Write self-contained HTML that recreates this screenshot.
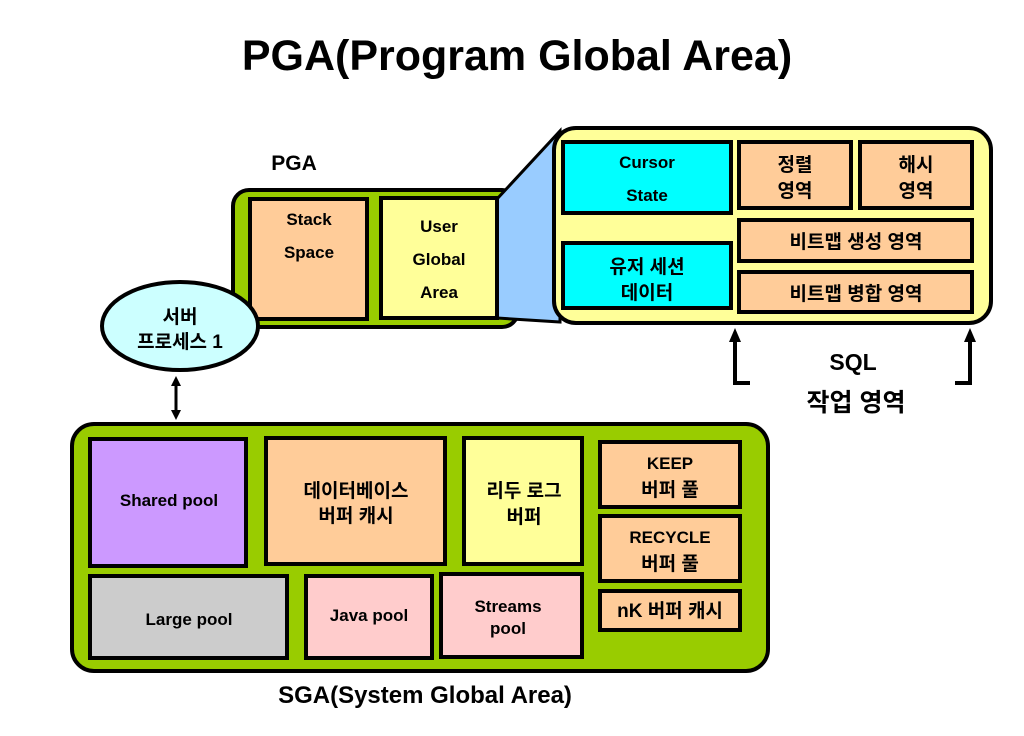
<!DOCTYPE html>
<html><head><meta charset="utf-8"><style>
html,body{margin:0;padding:0;background:#fff;}
svg{display:block;}
text{font-family:"Liberation Sans","Noto Sans CJK KR",sans-serif;font-weight:bold;fill:#000;text-anchor:middle;}
.b{stroke:#000;stroke-width:4;}
.s{font-size:17px;}
.k{font-size:19px;}
</style></head><body>
<svg width="1024" height="736" viewBox="0 0 1024 736" xmlns="http://www.w3.org/2000/svg">
<text x="517" y="70" style="font-size:43px">PGA(Program Global Area)</text>
<text x="294" y="170" style="font-size:21px">PGA</text>

<!-- PGA box -->
<rect x="233" y="190" width="285" height="137" rx="16" fill="#99cc00" class="b"/>
<polygon points="497,199 560,131 560,322 497,318" fill="#99ccff" stroke="#000" stroke-width="3"/>
<rect x="250" y="199" width="117" height="120" fill="#ffcc99" class="b"/>
<text x="309" y="225" class="s">Stack</text>
<text x="309" y="258" class="s">Space</text>
<rect x="381" y="198" width="116" height="120" fill="#ffff99" class="b"/>
<text x="439" y="232" class="s">User</text>
<text x="439" y="265" class="s">Global</text>
<text x="439" y="298" class="s">Area</text>

<!-- UGA detail -->
<rect x="554" y="128" width="437" height="195" rx="22" fill="#ffff99" class="b"/>
<rect x="563" y="142" width="168" height="71" fill="#00ffff" class="b"/>
<text x="647" y="168" class="s">Cursor</text>
<text x="647" y="201" class="s">State</text>
<rect x="563" y="243" width="168" height="65" fill="#00ffff" class="b"/>
<text x="647" y="273" class="k">유저 세션</text>
<text x="647" y="299" class="k">데이터</text>
<rect x="739" y="142" width="112" height="66" fill="#ffcc99" class="b"/>
<text x="795" y="171" class="k">정렬</text>
<text x="795" y="197" class="k">영역</text>
<rect x="860" y="142" width="112" height="66" fill="#ffcc99" class="b"/>
<text x="916" y="171" class="k">해시</text>
<text x="916" y="197" class="k">영역</text>
<rect x="739" y="220" width="233" height="41" fill="#ffcc99" class="b"/>
<text x="856" y="248" class="k">비트맵 생성 영역</text>
<rect x="739" y="272" width="233" height="40" fill="#ffcc99" class="b"/>
<text x="856" y="300" class="k">비트맵 병합 영역</text>

<!-- SQL bracket -->
<polyline points="735,336 735,383 750,383" fill="none" stroke="#000" stroke-width="4"/>
<polygon points="735,328 729,342 741,342" fill="#000"/>
<polyline points="970,336 970,383 955,383" fill="none" stroke="#000" stroke-width="4"/>
<polygon points="970,328 964,342 976,342" fill="#000"/>
<text x="853" y="370" style="font-size:23px">SQL</text>
<text x="856" y="411" style="font-size:25px">작업 영역</text>

<!-- server process -->
<ellipse cx="180" cy="326" rx="78" ry="44" fill="#ccffff" class="b"/>
<text x="180" y="323" class="k">서버</text>
<text x="180" y="348" class="k">프로세스 1</text>
<line x1="176" y1="384" x2="176" y2="412" stroke="#000" stroke-width="3"/>
<polygon points="176,376 171,386 181,386" fill="#000"/>
<polygon points="176,420 171,410 181,410" fill="#000"/>

<!-- SGA -->
<rect x="72" y="424" width="696" height="247" rx="22" fill="#99cc00" class="b"/>
<rect x="90" y="439" width="156" height="127" fill="#cc99ff" class="b"/>
<text x="169" y="506" class="s">Shared pool</text>
<rect x="266" y="438" width="179" height="126" fill="#ffcc99" class="b"/>
<text x="356" y="497" class="k">데이터베이스</text>
<text x="356" y="522" class="k">버퍼 캐시</text>
<rect x="464" y="438" width="118" height="126" fill="#ffff99" class="b"/>
<text x="524" y="497" class="k">리두 로그</text>
<text x="524" y="523" class="k">버퍼</text>
<rect x="600" y="442" width="140" height="65" fill="#ffcc99" class="b"/>
<text x="670" y="469" class="s">KEEP</text>
<text x="670" y="496" class="k">버퍼 풀</text>
<rect x="600" y="516" width="140" height="65" fill="#ffcc99" class="b"/>
<text x="670" y="543" class="s">RECYCLE</text>
<text x="670" y="570" class="k">버퍼 풀</text>
<rect x="600" y="591" width="140" height="39" fill="#ffcc99" class="b"/>
<text x="670" y="617" class="k">nK 버퍼 캐시</text>
<rect x="90" y="576" width="197" height="82" fill="#cccccc" class="b"/>
<text x="189" y="625" class="s">Large pool</text>
<rect x="306" y="576" width="126" height="82" fill="#ffcccc" class="b"/>
<text x="369" y="621" class="s">Java pool</text>
<rect x="441" y="574" width="141" height="83" fill="#ffcccc" class="b"/>
<text x="508" y="612" class="s">Streams</text>
<text x="508" y="634" class="s">pool</text>
<text x="425" y="703" style="font-size:24px">SGA(System Global Area)</text>
</svg>
</body></html>
